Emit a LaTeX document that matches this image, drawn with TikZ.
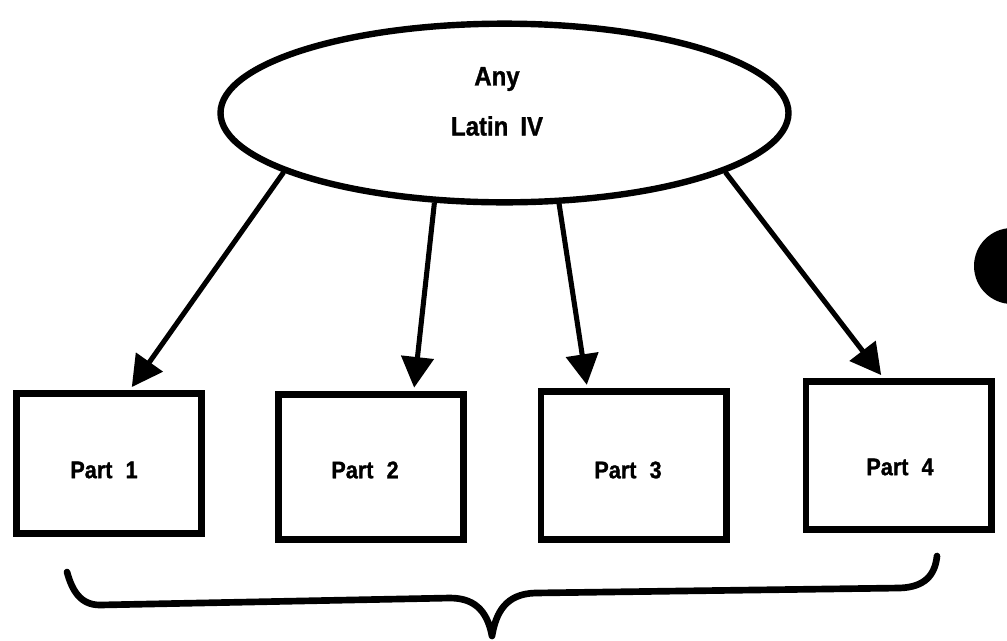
\documentclass[tikz,border=0pt]{standalone}
\usepackage{fontspec}
\setmainfont{Liberation Sans}
\newfontfamily\heavy{Liberation Sans}[BoldFeatures={FakeBold=1.2,FakeStretch=0.9}]
\usetikzlibrary{shapes.geometric,arrows.meta,calc}
\begin{document}
\begin{tikzpicture}[x=0.75pt,y=-0.75pt,
  txt/.style={font=\heavy\bfseries\fontsize{20}{22}\selectfont, inner sep=0pt},
  parttxt/.style={font=\heavy\bfseries\fontsize{18}{20}\selectfont, inner sep=0pt},
  partbox/.style={draw, line width=5pt, rectangle, minimum width=139pt, inner sep=0pt},
  arr/.style={line width=3.8pt, -{Triangle[length=23pt,width=24pt]}, shorten >=1pt},
  bracepath/.style={line width=5pt, line cap=round, line join=round}
]
\fill[white] (0,0) rectangle (1007,640);
\useasboundingbox (0,0) rectangle (1007,640);

\node[draw, ellipse, line width=4.8pt, minimum width=426pt, minimum height=134pt, inner sep=0pt] (ell) at (504.5,113) {};
\node[txt] (any) at (497,79) {Any};
\node[txt] (latin) at (497,126) {Latin\hspace{0.45em}IV};

\node[partbox, minimum height=105pt] (b1) at (109,463.5) {};
\node[partbox, minimum height=109pt] (b2) at (371,467) {};
\node[partbox, minimum height=111pt] (b3) at (633.5,465.5) {};
\node[partbox, minimum height=111pt] (b4) at (898.5,455.5) {};
\node[parttxt] (p1) at (104,470) {Part\hspace{0.55em}1};
\node[parttxt] (p2) at (365,470) {Part\hspace{0.55em}2};
\node[parttxt] (p3) at (628,470) {Part\hspace{0.55em}3};
\node[parttxt] (p4) at (900,467) {Part\hspace{0.55em}4};

\draw[arr] (ell.195.3) -- ($(b1.north)+(22,-2)$);
\draw[arr] (ell.232) -- ($(b2.north)+(43,-2)$);
\draw[arr] (ell.301.7) -- ($(b3.north)+(-46.5,-2)$);
\draw[arr] (ell.345) -- ($(b4.north)+(-16.5,-2)$);

\draw[bracepath] (67,572) .. controls (72,590) and (80,605) .. (100,605)
  -- (450,598) .. controls (478,598) and (488,615) .. (492,636)
  .. controls (496,612) and (506,594) .. (535,593)
  -- (900,588) .. controls (925,587) and (935,575) .. (937,556);

\fill[black] (1012,266) circle[radius=28.5pt];
\end{tikzpicture}
\end{document}
